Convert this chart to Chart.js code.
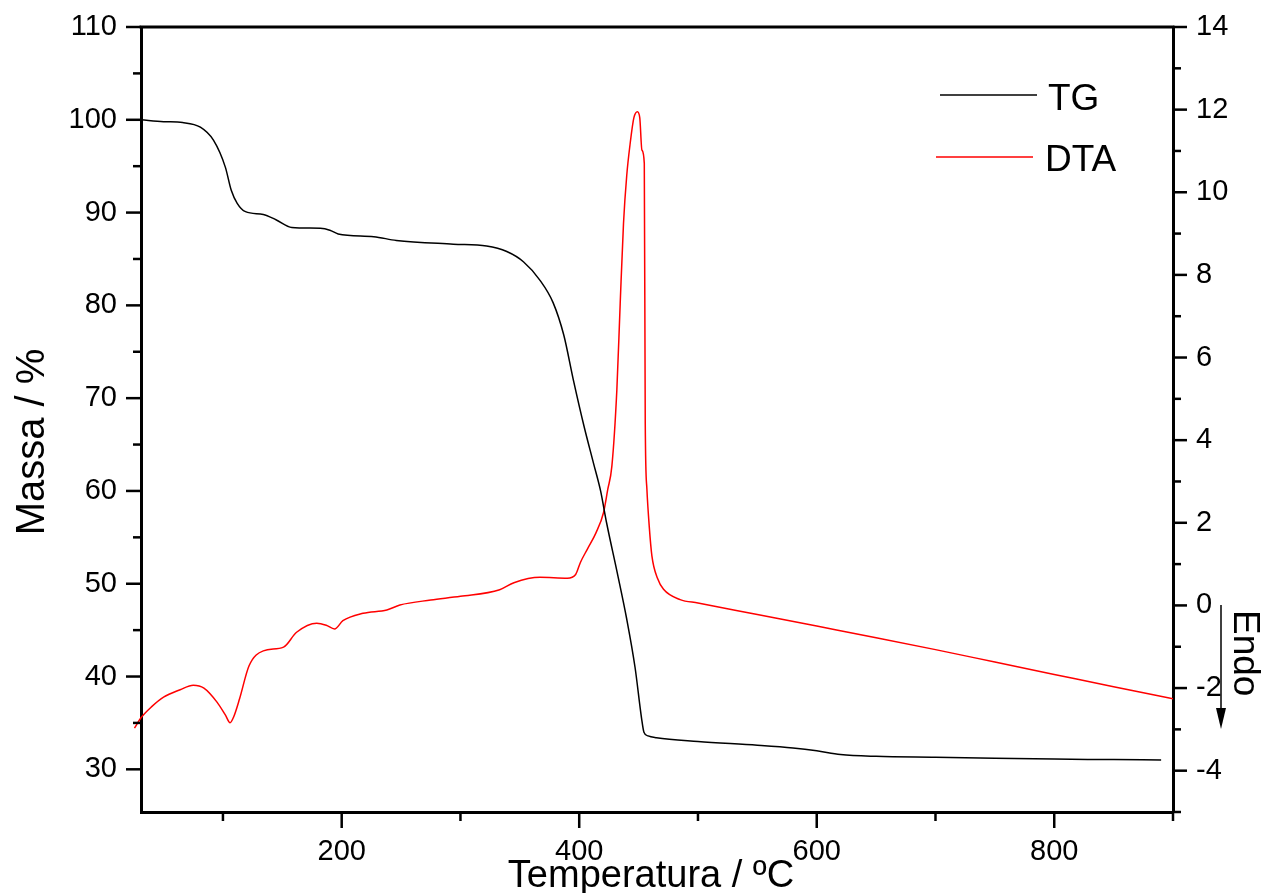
<!DOCTYPE html>
<html>
<head>
<meta charset="utf-8">
<script src="https://cdn.jsdelivr.net/npm/chart.js"></script>
<style>
  html, body { margin: 0; padding: 0; background: #fff; }
  canvas { display: block; }
</style>
</head>
<body>
<canvas id="myChart" width="1265" height="893"></canvas>
<script>
// TG curve (mass %)
var tgTemp = [31, 50, 66, 81, 92, 102, 107, 112, 119, 134, 145, 158, 182, 190, 197, 227, 246, 294, 322, 339, 353, 367, 378, 387, 395, 404, 412, 418, 423, 432, 440, 447, 452.5, 454.5, 458, 465, 500, 550, 580, 600, 620, 650, 700, 750, 800, 850, 890];
var tgMass = [100.0, 99.8, 99.7, 99.2, 97.8, 94.9, 92.4, 91.0, 90.1, 89.8, 89.2, 88.4, 88.3, 88.1, 87.7, 87.4, 87.0, 86.6, 86.4, 85.8, 84.7, 82.7, 80.3, 76.8, 72.0, 67.0, 63.0, 60.0, 56.6, 51.2, 46.2, 41.0, 35.5, 34.0, 33.6, 33.4, 33.0, 32.6, 32.3, 32.0, 31.6, 31.4, 31.3, 31.2, 31.1, 31.05, 31.0];

// DTA curve
var dtaTemp = [25.5, 31, 40, 50, 64, 75, 84, 95, 102, 106, 109, 114, 122, 134, 151, 162, 179, 187, 194, 201, 218, 238, 249, 275, 300, 333, 345, 367, 390, 397, 401, 407, 414, 420.5, 424, 427.5, 431.7, 434.5, 437.3, 440, 442.9, 446, 449, 451, 452.8, 454.8, 455.6, 457, 459, 461.2, 466, 471, 485, 500, 550, 600, 650, 700, 750, 800, 850, 900];
var dtaSignal = [-2.97, -2.72, -2.45, -2.22, -2.04, -1.93, -2.0, -2.34, -2.65, -2.84, -2.7, -2.26, -1.46, -1.10, -1.01, -0.65, -0.43, -0.48, -0.57, -0.37, -0.19, -0.11, 0.01, 0.13, 0.22, 0.38, 0.55, 0.68, 0.66, 0.75, 1.04, 1.37, 1.75, 2.25, 2.8, 3.37, 5.22, 7.3, 9.25, 10.4, 11.18, 11.8, 11.95, 11.8, 11.02, 10.70, 4.42, 2.81, 1.9, 1.20, 0.65, 0.39, 0.14, 0.06, -0.22, -0.5, -0.78, -1.07, -1.37, -1.67, -1.97, -2.26];

// ticks
var xTicks = [200, 400, 600, 800];
var xMinor = [100, 300, 500, 700, 900];
var yTicks = [30, 40, 50, 60, 70, 80, 90, 100, 110];
var yMinor = [35, 45, 55, 65, 75, 85, 95, 105];
var y1Ticks = [-4, -2, 0, 2, 4, 6, 8, 10, 12, 14];
var y1Minor = [-5, -3, -1, 1, 3, 5, 7, 9, 11, 13];

var FONT = "'Liberation Sans', Arial, sans-serif";

function pts(xs, ys) {
  return xs.map(function (x, i) { return { x: x, y: ys[i] }; });
}

// extra drawing: top border, tick marks, titles, legend, Endo arrow
var decor = {
  id: 'decor',
  afterDraw: function (chart) {
    var ctx = chart.ctx, a = chart.chartArea;
    var sx = chart.scales.x, sy = chart.scales.y, sy1 = chart.scales.y1;
    function seg(x1, y1, x2, y2) {
      ctx.beginPath(); ctx.moveTo(x1, y1); ctx.lineTo(x2, y2); ctx.stroke();
    }
    ctx.save();
    ctx.strokeStyle = '#000';
    ctx.lineWidth = 3;
    seg(a.left - 1.5, a.top, a.right + 1.5, a.top);

    ctx.lineWidth = 2.5;
    xTicks.forEach(function (v) { var p = sx.getPixelForValue(v); seg(p, a.bottom, p, a.bottom + 16); });
    xMinor.forEach(function (v) { var p = sx.getPixelForValue(v); seg(p, a.bottom, p, a.bottom + 9); });
    yTicks.forEach(function (v) { var p = sy.getPixelForValue(v); seg(a.left, p, a.left - 15, p); });
    yMinor.forEach(function (v) { var p = sy.getPixelForValue(v); seg(a.left, p, a.left - 8, p); });
    y1Ticks.forEach(function (v) { var p = sy1.getPixelForValue(v); seg(a.right, p, a.right + 14, p); });
    y1Minor.forEach(function (v) { var p = sy1.getPixelForValue(v); seg(a.right, p, a.right + 8, p); });

    ctx.fillStyle = '#000';
    // x title
    ctx.font = '38px ' + FONT;
    ctx.textAlign = 'center';
    ctx.textBaseline = 'alphabetic';
    ctx.fillText('Temperatura / \u00baC', 651, 887);

    // y title
    ctx.save();
    ctx.font = '40px ' + FONT;
    ctx.translate(44, 442);
    ctx.rotate(-Math.PI / 2);
    ctx.fillText('Massa / %', 0, 0);
    ctx.restore();

    // Endo label and arrow
    ctx.save();
    ctx.font = '37px ' + FONT;
    ctx.textAlign = 'left';
    ctx.translate(1234, 610);
    ctx.rotate(Math.PI / 2);
    ctx.fillText('Endo', 0, 0);
    ctx.restore();
    ctx.lineWidth = 1.5;
    seg(1221, 605, 1221, 712);
    ctx.beginPath();
    ctx.moveTo(1216, 708); ctx.lineTo(1226, 708); ctx.lineTo(1221, 729); ctx.closePath();
    ctx.fill();

    // legend
    ctx.font = '37px ' + FONT;
    ctx.textAlign = 'left';
    ctx.strokeStyle = '#000';
    ctx.lineWidth = 1.5;
    seg(940, 95, 1037, 95);
    ctx.fillText('TG', 1048, 110);
    ctx.strokeStyle = '#ff0000';
    seg(936, 157, 1033, 157);
    ctx.fillText('DTA', 1045, 171);
    ctx.restore();
  }
};

function noPadY(s) { s.paddingTop = 0; s.paddingBottom = 0; }

var ctx = document.getElementById('myChart').getContext('2d');
var chart = new Chart(ctx, {
  type: 'line',
  data: {
    datasets: [
      {
        label: 'TG',
        data: pts(tgTemp, tgMass),
        yAxisID: 'y',
        borderColor: '#000',
        borderWidth: 1.5,
        pointRadius: 0,
        cubicInterpolationMode: 'monotone',
        fill: false,
      },
      {
        label: 'DTA',
        data: pts(dtaTemp, dtaSignal),
        yAxisID: 'y1',
        borderColor: '#ff0000',
        borderWidth: 1.5,
        pointRadius: 0,
        cubicInterpolationMode: 'monotone',
        fill: false,
        clip: { left: 8, top: 0, right: 0, bottom: 0 },
      },
    ],
  },
  options: {
    responsive: false,
    animation: false,
    events: [],
    layout: { padding: { top: 27, left: 0, right: 0, bottom: 0 } },
    plugins: { legend: { display: false }, tooltip: { enabled: false } },
    scales: {
      x: {
        type: 'linear',
        min: 31,
        max: 900,
        grid: { display: false },
        border: { display: true, width: 3, color: '#000' },
        afterBuildTicks: function (s) { s.ticks = xTicks.map(function (v) { return { value: v }; }); },
        afterFit: function (s) { s.height = 81; s.paddingLeft = 0; s.paddingRight = 0; },
        ticks: { color: '#000', font: { family: FONT, size: 29 }, padding: 15, maxRotation: 0 },
      },
      y: {
        type: 'linear',
        position: 'left',
        min: 25.4,
        max: 110,
        grid: { display: false },
        border: { display: true, width: 3, color: '#000' },
        afterBuildTicks: function (s) { s.ticks = yTicks.map(function (v) { return { value: v }; }); },
        afterFit: function (s) { s.width = 141; noPadY(s); },
        ticks: { color: '#000', font: { family: FONT, size: 29 }, padding: 16 },
      },
      y1: {
        type: 'linear',
        position: 'right',
        min: -5,
        max: 14,
        grid: { display: false },
        border: { display: true, width: 3, color: '#000' },
        afterBuildTicks: function (s) { s.ticks = y1Ticks.map(function (v) { return { value: v }; }); },
        afterFit: function (s) { s.width = 92; noPadY(s); },
        ticks: { color: '#000', font: { family: FONT, size: 29 }, padding: 15 },
      },
    },
  },
  plugins: [decor],
});
</script>
</body>
</html>
